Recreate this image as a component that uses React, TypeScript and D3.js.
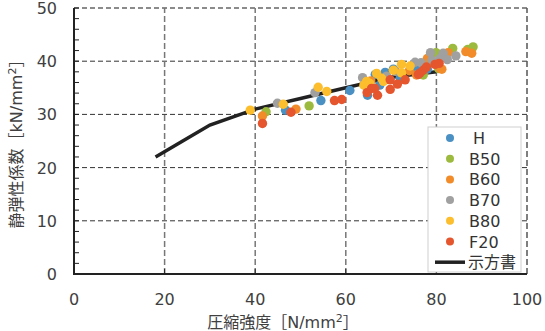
import React from "react";
import * as d3 from "d3";

const seriesNames = ["H", "B50", "B60", "B70", "B80", "F20"];
const seriesColors = ["#4a90c2", "#9cba3e", "#f28c2a", "#a0a0a0", "#fcbe2c", "#e5562e"];

const hData: [number, number][] = [
  [46.7, 30.8], [54.5, 32.6], [60.9, 34.5], [64.8, 33.6], [68.7, 37.9], [70.5, 38.5],
  [66.5, 37.5], [75.5, 38.6], [72, 36.8], [78, 38.5], [80, 39.5], [67.5, 35.5],
];
const b50Data: [number, number][] = [
  [42.4, 30.5], [51.9, 31.6], [77.1, 37.4], [79.9, 41.6], [83.6, 42.4], [86.9, 42.2],
  [88.1, 42.7], [78.5, 39.8], [80.5, 38.6],
];
const b60Data: [number, number][] = [
  [41.6, 29.7], [49, 31], [75.6, 37.4], [78, 40.5], [82.6, 41.6], [87.8, 41.5],
  [80.8, 38.7], [86.5, 41.8], [81.2, 38.5], [65.5, 36.3], [74, 38.2],
];
const b70Data: [number, number][] = [
  [44.9, 32.1], [53.2, 34.1], [63.7, 36.9], [75.3, 39.8], [76.6, 39.7], [78.7, 41.6],
  [80.8, 40.5], [81.5, 41.5], [82.4, 40.3], [84.3, 41], [79, 40.2], [71, 38.1], [69, 37.2],
];
const b80Data: [number, number][] = [
  [38.9, 30.8], [46.2, 31.9], [53.9, 35.1], [55.8, 34.3], [64.6, 36.2], [64, 35.5],
  [66.8, 37.7], [67.9, 36.8], [68.3, 36.2], [70.5, 38.3], [72.3, 39.4], [72.3, 37.8],
  [74.2, 39.1], [65.3, 35.8],
];
const f20Data: [number, number][] = [
  [41.6, 28.3], [47.9, 30.4], [57.5, 32.6], [59.1, 32.8], [64.7, 34.1], [65.7, 34.9],
  [67, 33.6], [66.4, 34.9], [69.8, 36.5], [69.8, 34.7], [71.4, 35.7], [73.1, 36.5],
  [76.4, 37.8], [77.1, 38.3], [77.8, 38.9], [79.7, 39.4], [80.6, 39.6], [76, 37.5],
];
const allSeries = [hData, b50Data, b60Data, b70Data, b80Data, f20Data];

const specX = [18, 24, 30, 40, 50, 60, 70, 80];
const specY = [22, 25, 28, 31, 33, 35, 37, 38];
const specName = "示方書";

const xTicks = [0, 20, 40, 60, 80, 100];
const yTicks = [0, 10, 20, 30, 40, 50];

const FONT = "'DejaVu Sans', 'Noto Sans CJK JP', sans-serif";

export default function App() {
  const x = d3.scaleLinear().domain([0, 100]).range([74, 527]);
  const y = d3.scaleLinear().domain([0, 50]).range([274, 8]);
  const line = d3
    .line<number>()
    .x((d) => x(d))
    .y((_, i) => y(specY[i]));
  const minor = d3.range(0, 51, 2);

  const legX = 428;
  const legY = 127;
  const rowH = 20.7;

  return (
    <svg
      width={545}
      height={331}
      style={{ position: "absolute", left: 0, top: 0, background: "#fff" }}
      fontFamily={FONT}
    >
      {[10, 20, 30, 40].map((v) => (
        <line key={"gh" + v} x1={x(0)} x2={x(100)} y1={y(v)} y2={y(v)}
          stroke="#333" strokeWidth={1} strokeDasharray="5,3" />
      ))}
      <line x1={x(0)} x2={x(100)} y1={y(50)} y2={y(50)} stroke="#666" strokeWidth={1.5} strokeDasharray="5,3" />
      {[20, 40, 60, 80].map((v) => (
        <line key={"gv" + v} x1={x(v)} x2={x(v)} y1={y(0)} y2={y(50)}
          stroke="#777" strokeWidth={1.5} strokeDasharray="6,3" />
      ))}
      <line x1={x(100)} x2={x(100)} y1={y(0)} y2={y(50)} stroke="#555" strokeWidth={1.5} strokeDasharray="6,3" />

      <line x1={x(0)} x2={x(0)} y1={y(0) + 1} y2={y(50)} stroke="#222" strokeWidth={2} />
      <line x1={x(0) - 1} x2={x(100)} y1={y(0)} y2={y(0)} stroke="#222" strokeWidth={2} />
      {minor.map((v) => (
        <line key={"ym" + v} x1={x(0)} x2={x(0) + 5} y1={y(v)} y2={y(v)} stroke="#222" strokeWidth={1} />
      ))}
      {[20, 40, 60, 80].map((v) => (
        <line key={"xm" + v} x1={x(v)} x2={x(v)} y1={y(0)} y2={y(0) - 5} stroke="#222" strokeWidth={1} />
      ))}

      {xTicks.map((v) => (
        <text key={"xt" + v} x={x(v)} y={305} fontSize={16} textAnchor="middle" fill="#404040">{v}</text>
      ))}
      {yTicks.map((v) => (
        <text key={"yt" + v} x={57} y={y(v) + 6} fontSize={16} textAnchor="end" fill="#404040">{v}</text>
      ))}

      <text x={283} y={328} fontSize={16} textAnchor="middle" fill="#404040">
        圧縮強度［N/mm<tspan fontSize={11} dy={-6}>2</tspan><tspan dy={6}>］</tspan>
      </text>
      <text transform="translate(22,140) rotate(-90)" fontSize={16} textAnchor="middle" fill="#404040">
        静弾性係数［kN/mm<tspan fontSize={11} dy={-6}>2</tspan><tspan dy={6}>］</tspan>
      </text>

      <path d={line(specX) || ""} fill="none" stroke="#222" strokeWidth={3.5} />

      {allSeries.map((data, si) =>
        data.map((d, i) => (
          <circle key={si + "-" + i} cx={x(d[0])} cy={y(d[1])} r={4.7} fill={seriesColors[si]} />
        ))
      )}

      <rect x={legX} y={legY} width={93} height={145} fill="#fff" stroke="#d0d0d0" strokeWidth={1} />
      {seriesNames.map((n, i) => (
        <g key={"lg" + n}>
          <circle cx={450} cy={legY + 11 + i * rowH} r={4} fill={seriesColors[i]} />
          <text x={n === "H" ? 473 : 469} y={legY + 17 + i * rowH} fontSize={16} fill="#333">{n}</text>
        </g>
      ))}
      <line x1={435} x2={465} y1={legY + 11 + 6 * rowH} y2={legY + 11 + 6 * rowH} stroke="#222" strokeWidth={3.5} />
      <text x={468} y={legY + 17 + 6 * rowH} fontSize={16} fill="#333">{specName}</text>
    </svg>
  );
}
